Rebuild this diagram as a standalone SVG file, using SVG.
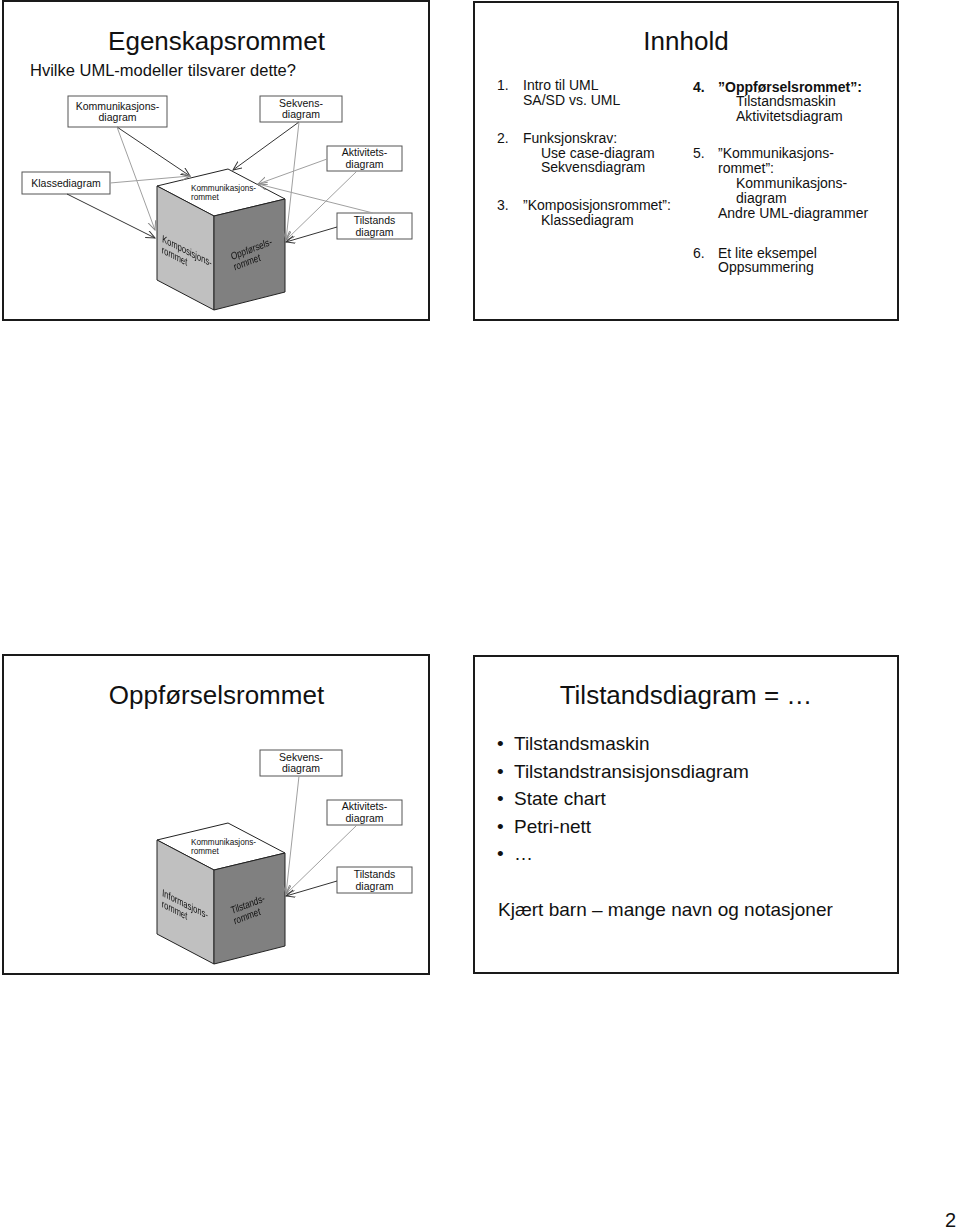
<svg xmlns="http://www.w3.org/2000/svg" width="960" height="1229" viewBox="0 0 960 1229">
<style>
text{font-family:"Liberation Sans",Arial,sans-serif;fill:#111}
.frame{fill:#fff;stroke:#1a1a1a;stroke-width:2}
.title{font-size:26px}
.sub{font-size:16.5px}
.box{fill:#fff;stroke:#555;stroke-width:1}
.lbl{font-size:10.5px;text-anchor:middle}
.toc{font-size:14px}
.b{font-weight:bold}
.bul{font-size:19px}
.top{fill:#fff;stroke:#222;stroke-width:1}
.left{fill:#c0c0c0;stroke:#222;stroke-width:1}
.right{fill:#808080;stroke:#222;stroke-width:1}
.face{font-size:10.5px}
.facetop{font-size:8.2px}
.dk{stroke:#333;stroke-width:1;fill:none;marker-end:url(#ad)}
.gr{stroke:#a0a0a0;stroke-width:1;fill:none;marker-end:url(#ag)}
</style>
<defs>
<filter id="gs" x="-10%" y="-10%" width="120%" height="120%"><feColorMatrix type="saturate" values="0"/></filter>
<marker id="ad" markerUnits="userSpaceOnUse" markerWidth="12" markerHeight="10" refX="9" refY="4" orient="auto"><path d="M0,0 L9,4 L0,8" fill="none" stroke="#333" stroke-width="1"/></marker>
<marker id="ag" markerUnits="userSpaceOnUse" markerWidth="12" markerHeight="10" refX="9" refY="4" orient="auto"><path d="M0,0 L9,4 L0,8" fill="none" stroke="#888" stroke-width="1"/></marker>
</defs>
<rect width="960" height="1229" fill="#fff"/>

<!-- Slide 1: Egenskapsrommet -->
<g id="slide-egenskapsrommet">
<rect class="frame" x="3" y="1" width="426" height="319"/>
<text class="title" x="216.5" y="50" text-anchor="middle">Egenskapsrommet</text>
<text class="sub" x="30" y="76">Hvilke UML-modeller tilsvarer dette?</text>
<g id="cube-1">
<polygon class="top" points="157,186 228,169 285,199 214,216"/>
<polygon class="left" points="157,186 214,216 214,310 157,280"/>
<polygon class="right" points="214,216 285,199 285,292 214,310"/>
<text class="facetop" x="191" y="190.5">Kommunikasjons-</text>
<text class="facetop" x="191" y="200">rommet</text>
<g filter="url(#gs)"><g transform="matrix(0.72,0.36,-0.05,1,162,242)"><text class="face" x="0" y="0">Komposisjons-</text><text class="face" x="0" y="11">rommet</text></g></g>
<g filter="url(#gs)"><g transform="matrix(0.74,-0.28,0.25,0.95,232,260)"><text class="face" x="0" y="0">Oppførsels-</text><text class="face" x="0" y="11">rommet</text></g></g>
</g>
<g id="node-kommunikasjonsdiagram"><rect class="box" x="68" y="96" width="99" height="31"/><text class="lbl" x="117.5" y="110">Kommunikasjons-</text><text class="lbl" x="117.5" y="121">diagram</text></g>
<g id="node-sekvensdiagram-1"><rect class="box" x="260" y="96" width="82" height="26"/><text class="lbl" x="301" y="106.5">Sekvens-</text><text class="lbl" x="301" y="118">diagram</text></g>
<g id="node-aktivitetsdiagram-1"><rect class="box" x="327" y="146" width="75" height="25"/><text class="lbl" x="364.5" y="156">Aktivitets-</text><text class="lbl" x="364.5" y="167.5">diagram</text></g>
<g id="node-tilstandsdiagram-1"><rect class="box" x="337" y="213" width="75" height="26"/><text class="lbl" x="374.5" y="224">Tilstands</text><text class="lbl" x="374.5" y="235.5">diagram</text></g>
<g id="node-klassediagram"><rect class="box" x="22" y="172" width="88" height="22"/><text class="lbl" x="66" y="187">Klassediagram</text></g>
<g id="connectors-1">
<path class="dk" d="M117,127 L190,176"/>
<path class="gr" d="M117,127 L155,230"/>
<path class="gr" d="M110,183 L190,176"/>
<path class="dk" d="M67,194 L155,238"/>
<path class="dk" d="M299,122 L233,170"/>
<path class="gr" d="M299,122 L286,240"/>
<path class="gr" d="M327,159 L258,184"/>
<path class="gr" d="M357,171 L286,240"/>
<path class="gr" d="M373,213 L258,184"/>
<path class="dk" d="M337,227 L286,242"/>
</g>
</g>

<!-- Slide 2: Innhold -->
<g id="slide-innhold">
<rect class="frame" x="474" y="2" width="424" height="318"/>
<text class="title" x="686" y="50" text-anchor="middle">Innhold</text>
<text class="toc" x="497" y="90">1.</text><text class="toc" x="523" y="90">Intro til UML</text>
<text class="toc" x="523" y="105">SA/SD vs. UML</text>
<text class="toc" x="497" y="143">2.</text><text class="toc" x="523" y="143">Funksjonskrav:</text>
<text class="toc" x="541" y="157.5">Use case-diagram</text>
<text class="toc" x="541" y="172">Sekvensdiagram</text>
<text class="toc" x="497" y="210">3.</text><text class="toc" x="523" y="210">”Komposisjonsrommet”:</text>
<text class="toc" x="541" y="225">Klassediagram</text>
<text class="toc b" x="693" y="91.5">4.</text><text class="toc b" x="718" y="91.5">”Oppførselsrommet”:</text>
<text class="toc" x="736" y="106">Tilstandsmaskin</text>
<text class="toc" x="736" y="120.5">Aktivitetsdiagram</text>
<text class="toc" x="693" y="158">5.</text><text class="toc" x="718" y="158">”Kommunikasjons-</text>
<text class="toc" x="718" y="173">rommet”:</text>
<text class="toc" x="736" y="188">Kommunikasjons-</text>
<text class="toc" x="736" y="203">diagram</text>
<text class="toc" x="718" y="218">Andre UML-diagrammer</text>
<text class="toc" x="693" y="257.5">6.</text><text class="toc" x="718" y="257.5">Et lite eksempel</text>
<text class="toc" x="718" y="272">Oppsummering</text>
</g>

<!-- Slide 3: Oppførselsrommet -->
<g id="slide-oppforselsrommet">
<rect class="frame" x="3" y="655" width="426" height="319"/>
<text class="title" x="216.5" y="704" text-anchor="middle">Oppførselsrommet</text>
<g id="cube-2">
<polygon class="top" points="157,840 228,823 285,853 214,870"/>
<polygon class="left" points="157,840 214,870 214,964 157,934"/>
<polygon class="right" points="214,870 285,853 285,946 214,964"/>
<text class="facetop" x="191" y="844.5">Kommunikasjons-</text>
<text class="facetop" x="191" y="854">rommet</text>
<g filter="url(#gs)"><g transform="matrix(0.72,0.36,-0.05,1,162,896)"><text class="face" x="0" y="0">Informasjons-</text><text class="face" x="0" y="11">rommet</text></g></g>
<g filter="url(#gs)"><g transform="matrix(0.74,-0.28,0.25,0.95,232,914)"><text class="face" x="0" y="0">Tilstands-</text><text class="face" x="0" y="11">rommet</text></g></g>
</g>
<g id="node-sekvensdiagram-2"><rect class="box" x="260" y="750" width="82" height="26"/><text class="lbl" x="301" y="760.5">Sekvens-</text><text class="lbl" x="301" y="772">diagram</text></g>
<g id="node-aktivitetsdiagram-2"><rect class="box" x="327" y="800" width="75" height="25"/><text class="lbl" x="364.5" y="810">Aktivitets-</text><text class="lbl" x="364.5" y="821.5">diagram</text></g>
<g id="node-tilstandsdiagram-2"><rect class="box" x="337" y="867" width="75" height="26"/><text class="lbl" x="374.5" y="878">Tilstands</text><text class="lbl" x="374.5" y="889.5">diagram</text></g>
<g id="connectors-2">
<path class="gr" d="M299,776 L286,894"/>
<path class="gr" d="M357,825 L286,894"/>
<path class="dk" d="M337,881 L286,896"/>
</g>
</g>

<!-- Slide 4: Tilstandsdiagram -->
<g id="slide-tilstandsdiagram">
<rect class="frame" x="474" y="656" width="424" height="317"/>
<text class="title" x="686" y="704" text-anchor="middle">Tilstandsdiagram = …</text>
<text class="bul" x="497" y="750">•</text><text class="bul" x="514" y="750">Tilstandsmaskin</text>
<text class="bul" x="497" y="777.5">•</text><text class="bul" x="514" y="777.5">Tilstandstransisjonsdiagram</text>
<text class="bul" x="497" y="805">•</text><text class="bul" x="514" y="805">State chart</text>
<text class="bul" x="497" y="832.5">•</text><text class="bul" x="514" y="832.5">Petri-nett</text>
<text class="bul" x="497" y="860">•</text><text class="bul" x="514" y="860">…</text>
<text class="bul" x="498" y="916">Kjært barn – mange navn og notasjoner</text>
</g>

<text x="945" y="1227" font-size="20">2</text>
</svg>
